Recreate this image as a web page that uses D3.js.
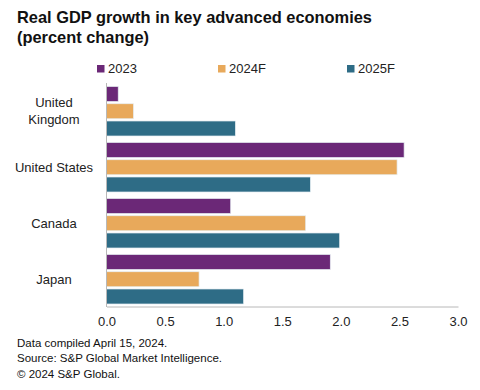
<!doctype html>
<html lang="en">
<head>
  <meta charset="utf-8">
  <title>Real GDP growth in key advanced economies</title>
  <style>
    body { margin: 0; background: #fff; }
    svg { display: block; font-family: "Liberation Sans", Arial, sans-serif; }
  </style>
</head>
<body>
  <svg id="chart" width="480" height="390"></svg>
  <script src="https://cdn.jsdelivr.net/npm/d3@7"></script>
  <script>
    var countries = ["United Kingdom", "United States", "Canada", "Japan"];
    var series = ["2023", "2024F", "2025F"];
    var colors = ["#6b2877", "#e8a95b", "#2e6c86"];
    var v2023 = [0.1, 2.54, 1.06, 1.91];
    var v2024 = [0.23, 2.48, 1.70, 0.79];
    var v2025 = [1.1, 1.74, 1.99, 1.17];
    var ticks = [0, 0.5, 1, 1.5, 2, 2.5, 3];
    var footer = ["Data compiled April 15, 2024.",
                  "Source: S&P Global Market Intelligence.",
                  "\u00a9 2024 S&P Global."];

    var values = [v2023, v2024, v2025];
    var rows = [];
    countries.forEach(function(c, i) {
      series.forEach(function(s, j) {
        rows.push({country: c, series: s, value: values[j][i]});
      });
    });

    var svg = d3.select("#chart");

    var x = d3.scaleLinear().domain([0, 3]).range([106.5, 458]);
    var y = d3.scaleBand().domain(countries).range([83, 307]);
    var ys = d3.scaleBand().domain(series).range([3.5, 53]).paddingInner(0.13);
    var color = d3.scaleOrdinal().domain(series).range(colors);

    // title
    var title = svg.append("text")
      .attr("x", 17).attr("y", 23)
      .attr("font-size", 16.4).attr("font-weight", "bold").attr("fill", "#111");
    title.append("tspan").attr("x", 17).attr("dy", 0).text("Real GDP growth in key advanced economies");
    title.append("tspan").attr("x", 17).attr("dy", 19.5).text("(percent change)");

    // legend
    var legendX = [97, 218, 347];
    var lg = svg.selectAll("g.legend").data(series).enter().append("g")
      .attr("class", "legend")
      .attr("transform", function(d, i) { return "translate(" + legendX[i] + ",65)"; });
    lg.append("rect").attr("width", 7.5).attr("height", 7.5).attr("fill", function(d) { return color(d); });
    lg.append("text").attr("x", 11).attr("y", 7.8).attr("font-size", 13).attr("fill", "#222").text(function(d) { return d; });

    // bars
    svg.append("g").selectAll("rect").data(rows).enter().append("rect")
      .attr("x", x(0))
      .attr("y", function(d) { return y(d.country) + ys(d.series); })
      .attr("width", function(d) { return x(d.value) - x(0); })
      .attr("height", ys.bandwidth())
      .attr("fill", function(d) { return color(d.series); })
      .attr("stroke", "#e6eef2").attr("stroke-width", 0.7);

    // axes
    var xAxis = svg.append("g")
      .attr("transform", "translate(0," + 306.5 + ")")
      .call(d3.axisBottom(x).tickValues(ticks).tickFormat(d3.format(".1f")).tickSize(0).tickPadding(10));
    xAxis.select(".domain").attr("stroke", "#b8b8b8");
    xAxis.selectAll("text").attr("font-size", 13).attr("fill", "#222").attr("font-family", null);

    svg.append("line")
      .attr("x1", x(0)).attr("x2", x(0))
      .attr("y1", 83).attr("y2", 307)
      .attr("stroke", "#b8b8b8");

    // category labels
    var cat = svg.append("g").selectAll("text").data(countries).enter().append("text")
      .attr("text-anchor", "middle")
      .attr("font-size", 13).attr("fill", "#222")
      .attr("y", function(d) { return y(d) + y.bandwidth() / 2 + 4.5; });
    cat.each(function(d) {
      var t = d3.select(this);
      if (d === "United Kingdom") {
        t.append("tspan").attr("x", 54).attr("dy", -8.5).text("United");
        t.append("tspan").attr("x", 54).attr("dy", 17).text("Kingdom");
      } else {
        t.append("tspan").attr("x", 54).text(d);
      }
    });

    // footer
    svg.append("g").selectAll("text").data(footer).enter().append("text")
      .attr("x", 17).attr("y", function(d, i) { return 346.5 + i * 15.8; })
      .attr("font-size", 11.5).attr("fill", "#111")
      .text(function(d) { return d; });
  </script>
</body>
</html>
